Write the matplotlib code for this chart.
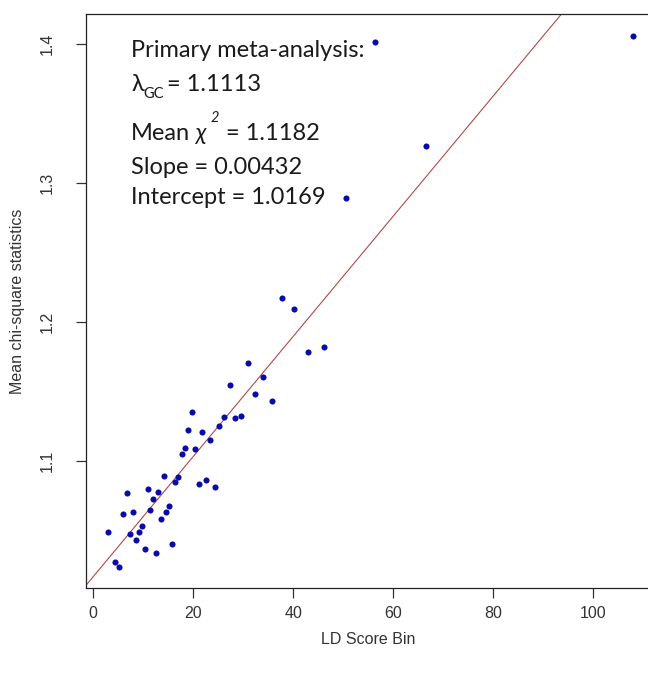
import matplotlib
matplotlib.use("Agg")
import matplotlib.pyplot as plt
import numpy as np

# LD score bin (x) and mean chi-square statistic (y)
ld_bin = [31.0, 34.0, 27.3, 32.4, 35.7, 19.7, 26.2, 28.3, 29.6, 25.2,
          18.9, 21.8, 23.4, 18.3, 20.3, 17.7, 14.1, 17.0, 16.4, 21.1,
          22.5, 24.4, 10.9, 12.9, 6.8, 11.9, 15.2, 11.3, 5.9, 8.0,
          14.6, 13.5, 9.7, 9.2, 2.9, 7.3, 8.6, 10.3, 12.5, 15.8,
          4.3, 5.1, 37.7, 40.2, 42.9, 46.1, 50.5, 56.3, 66.5, 107.9]
mean_chisq = [1.1707, 1.1602, 1.1544, 1.1484, 1.1433, 1.1350, 1.1316, 1.1307, 1.1326, 1.1249,
              1.1225, 1.1208, 1.1151, 1.1093, 1.1084, 1.1050, 1.0892, 1.0883, 1.0849, 1.0835,
              1.0861, 1.0811, 1.0801, 1.0777, 1.0768, 1.0727, 1.0676, 1.0650, 1.0617, 1.0633,
              1.0633, 1.0583, 1.0535, 1.0492, 1.0492, 1.0477, 1.0432, 1.0367, 1.0341, 1.0401,
              1.0276, 1.0240, 1.2170, 1.2095, 1.1786, 1.1820, 1.2889, 1.4014, 1.3265, 1.4055]

slope = 0.00432
intercept = 1.0169
x_ticks = [0, 20, 40, 60, 80, 100]
y_ticks = [1.1, 1.2, 1.3, 1.4]

W, H = 648, 675
fig = plt.figure(figsize=(W / 100, H / 100), dpi=100)

# axes box in pixels (left, top, right, bottom); right side is cut off by the figure edge
L, T, R, B = 86, 14, 653.8, 587.7
ax = fig.add_axes([L / W, 1 - B / H, (R - L) / W, (B - T) / H])

ax.set_xlim(-1.46, 112.1)
ax.set_ylim(1.0089, 1.4214)

xx = np.array(ax.get_xlim())
ax.plot(xx, intercept + slope * xx, color="#b54848", lw=0.8, zorder=2)
ax.plot(ld_bin, mean_chisq, "o", color="#0a0aa8", ms=4.4, mec="none", zorder=3)

tick_font = {"family": "Liberation Sans", "size": 11.5, "color": "#333333"}
ax.set_xticks(x_ticks)
ax.set_xticklabels([str(v) for v in x_ticks], fontdict=tick_font)
ax.set_yticks(y_ticks)
ax.set_yticklabels([f"{v:.1f}" for v in y_ticks], fontdict=tick_font, rotation=90, va="center")
ax.tick_params(axis="x", direction="out", length=7.2, width=0.9, color="#333333", pad=6)
ax.tick_params(axis="y", direction="out", length=7.2, width=0.9, color="#333333", pad=15.5)

for s in ax.spines.values():
    s.set_color("#222222")
    s.set_linewidth(0.9)

ax.set_xlabel("LD Score Bin", family="Liberation Sans", size=11.5, color="#333333", va="center")
ax.set_ylabel("Mean chi-square statistics", family="Liberation Sans", size=11.5, color="#333333",
              va="center")
ax.xaxis.set_label_coords(0.4967, (B - 640) / (B - T))
ax.yaxis.set_label_coords((18 - L) / (R - L), 0.5)

# annotation block (pixel positions of baselines)
fam = ["Lato", "DejaVu Sans"]
fs = 17
col = "#1a1a1a"

def ptext(x, y, s, **kw):
    kw.setdefault("size", fs)
    fig.text(x / W, 1 - y / H, s, family=fam, color=col, va="baseline", ha="left", **kw)

ptext(131, 57, "Primary meta-analysis:")
ptext(131, 91, "λ")
ptext(143, 98.5, "GC", size=10.5)
ptext(167, 91, "= 1.1113")
ptext(131, 140, "Mean")
ptext(196, 140, "χ", style="italic")
ptext(211, 121.5, "2", size=10.5, style="italic")
ptext(226, 140, "= 1.1182")
ptext(131, 173.5, "Slope = 0.00432")
ptext(131, 204.5, "Intercept = 1.0169")

fig.savefig("out.png", dpi=100)
